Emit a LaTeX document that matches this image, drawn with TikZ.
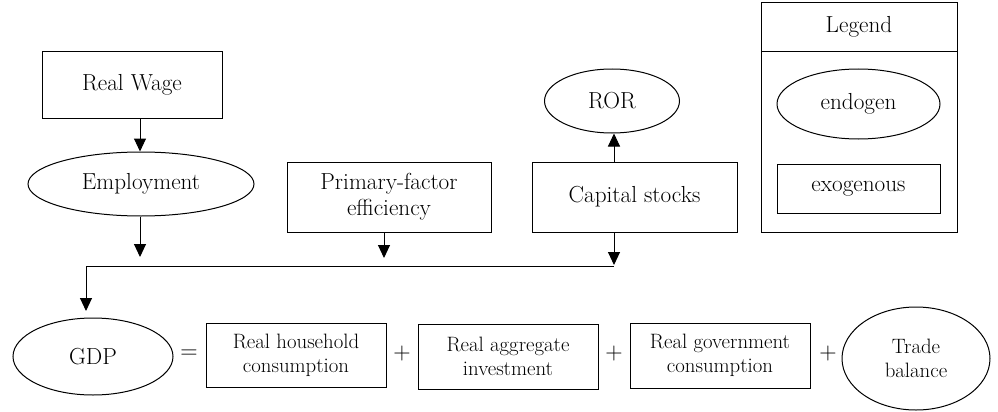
\documentclass[tikz,border=0pt]{standalone}
\usetikzlibrary{shapes.geometric,arrows.meta}
\begin{document}
\begin{tikzpicture}[x=1pt,y=-1pt,
 big/.style={font=\rmfamily\fontsize{23.2}{26}\selectfont},
 small/.style={font=\rmfamily\fontsize{20.8}{24}\selectfont},
 box/.style={draw,line width=1pt,inner sep=0pt,align=center,rectangle},
 ell/.style={draw,ellipse,line width=1pt,inner sep=0pt,align=center},
 op/.style={inner sep=0pt,font=\rmfamily\fontsize{24}{24}\selectfont},
 arr/.style={line width=1pt,-{Triangle[width=12pt,length=13pt]}},
 ln/.style={line width=1pt}]
\useasboundingbox (0,0) rectangle (998,412);
% top row
\node[box,big,minimum width=180pt,minimum height=66pt] (rw) at (132,85) {Real Wage};
\node[ell,big,minimum width=226pt,minimum height=64pt] (emp) at (141,184) {Employment};
\node[box,big,minimum width=204pt,minimum height=70pt] (pf) at (389,197) {Primary-factor\\efficiency};
\node[box,big,minimum width=205pt,minimum height=70pt] (cs) at (634.5,197) {Capital stocks};
\node[ell,big,minimum width=135pt,minimum height=64pt] (ror) at (612,101) {ROR};
% legend
\node[box,minimum width=196pt,minimum height=229pt] (leg) at (859,117.5) {};
\coordinate (legdivl) at (761,52);
\coordinate (legdivr) at (957,52);
\draw[ln] (legdivl) -- (legdivr);
\node[big] (legt) at (859,27) {Legend};
\node[ell,big,minimum width=163pt,minimum height=70pt] (endo) at (858.5,104) {endogen};
\node[box,big,minimum width=163pt,minimum height=49pt] (exo) at (858.5,188.5) {exogenous};
% bottom row
\node[ell,big,minimum width=160pt,minimum height=77pt] (gdp) at (93,356.5) {GDP};
\node[op] (eq) at (189,354) {=};
\node[box,small,minimum width=180pt,minimum height=64pt] (rhc) at (296,355) {Real household\\consumption};
\node[op] (p1) at (402,354) {+};
\node[box,small,minimum width=180pt,minimum height=65pt] (rai) at (508,356.5) {Real aggregate\\investment};
\node[op] (p2) at (614,354) {+};
\node[box,small,minimum width=180pt,minimum height=65pt] (rgc) at (720,355.5) {Real government\\consumption};
\node[op] (p3) at (828,354) {+};
\node[ell,small,minimum width=148pt,minimum height=103pt] (tb) at (916,358.5) {Trade\\balance};
% connectors
\coordinate (empend) at (140,257);
\coordinate (pfend) at (384,258);
\coordinate (csend) at (614,265);
\coordinate (jr) at (614,266);
\coordinate (jl) at (86,266);
\coordinate (gdpend) at (86,311);
\draw[arr] (rw.south -| 140,0) -- (emp.north -| 140,0);
\draw[arr] (emp.south -| 140,0) -- (empend);
\draw[arr] (pf.south -| 384,0) -- (pfend);
\draw[arr] (cs.south -| 614,0) -- (csend);
\draw[arr] (cs.north -| 614,0) -- (ror.south -| 614,0);
\draw[ln] (jr) -- (jl);
\draw[arr] (jl) -- (gdpend);
\end{tikzpicture}
\end{document}
